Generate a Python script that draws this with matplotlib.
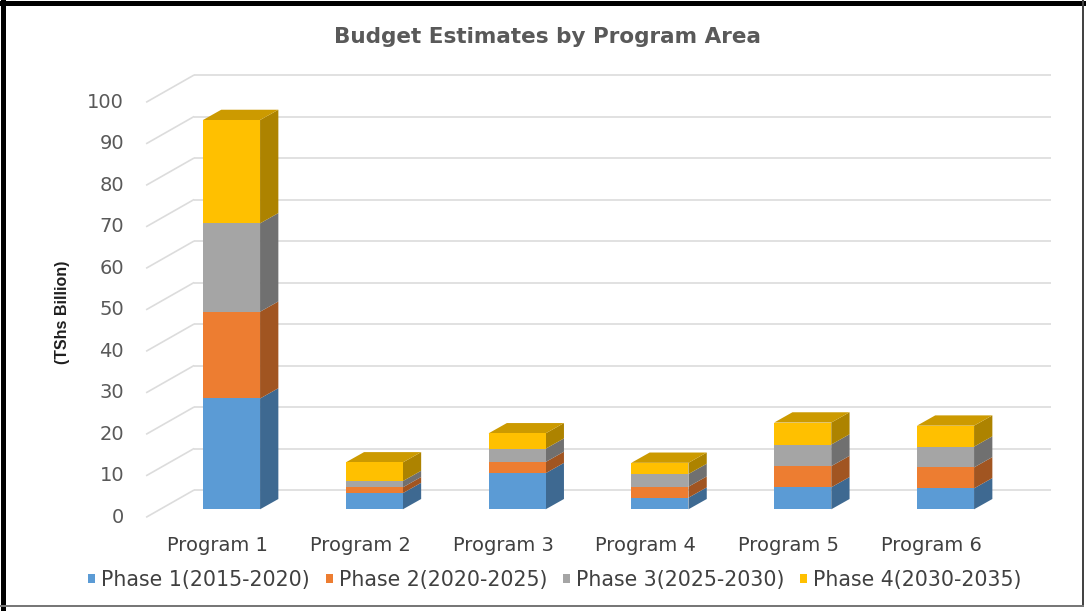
import matplotlib
matplotlib.use("Agg")
import matplotlib.pyplot as plt
import matplotlib.colors as mcolors
from matplotlib.patches import Polygon, Rectangle
from matplotlib.lines import Line2D

# ---- data -------------------------------------------------------------
categories = ["Program 1", "Program 2", "Program 3", "Program 4", "Program 5", "Program 6"]
phase_labels = ["Phase 1(2015-2020)", "Phase 2(2020-2025)",
                "Phase 3(2025-2030)", "Phase 4(2030-2035)"]
phase1 = [26.7, 3.9, 8.7, 2.8, 5.3, 5.05]
phase2 = [20.9, 1.4, 2.7, 2.65, 5.1, 5.05]
phase3 = [21.3, 1.5, 3.2, 3.05, 5.2, 5.0]
phase4 = [24.9, 4.5, 3.7, 2.7, 5.3, 5.05]
y_ticks = list(range(0, 101, 10))

title = "Budget Estimates by Program Area"
y_label = "(TShs Billion)"

# ---- style ------------------------------------------------------------
front_colors = ["#5B9BD5", "#ED7D31", "#A5A5A5", "#FFC000"]
grid_color = "#DCDCDC"
text_color = "#595959"


def shade(color, f):
    r, g, b = mcolors.to_rgb(color)
    return (r * f, g * f, b * f)


W, H, DPI = 1086, 611, 100
fig = plt.figure(figsize=(W / DPI, H / DPI), dpi=DPI)
fig.patch.set_facecolor("white")

# plotting box for the bar front faces (pixels from the top-left corner)
box_left, box_right = 160.1, 1016.9
box_zero, box_top = 509.3, 94.3
ax = fig.add_axes([box_left / W, 1 - box_zero / H,
                   (box_right - box_left) / W, (box_zero - box_top) / H])
ax.set_xlim(-0.5, len(categories) - 0.5)
ax.set_ylim(0, 100)
ax.axis("off")

ux = (box_right - box_left) / len(categories)   # pixels per category
uy = (box_zero - box_top) / 100.0              # pixels per unit value


def px(dx, dy):
    """pixel offset (right, up) -> data offset"""
    return dx / ux, dy / uy


# depth offsets relative to the bar front plane
front_dx, front_dy = px(-14, -8)      # front edge of the floor
bar_dx, bar_dy = px(18.3, 10.3)       # bar depth
back_dx, back_dy = px(34, 19.3)       # back wall
wall_x0, wall_x1 = -0.5, len(categories) - 0.5

# back wall gridlines and left wall lines
for v in y_ticks:
    ax.plot([wall_x0 + back_dx, wall_x1 + back_dx], [v + back_dy, v + back_dy],
            color=grid_color, lw=1.2, zorder=1, clip_on=False,
            solid_capstyle="butt")
    ax.plot([wall_x0 + front_dx, wall_x0 + back_dx], [v + front_dy, v + back_dy],
            color=grid_color, lw=1.2, zorder=1, clip_on=False,
            solid_capstyle="butt")
    lx, _ = px(-22, 0)
    ax.text(wall_x0 + front_dx + lx, v + front_dy, str(v), ha="right", va="center",
            fontsize=14, color=text_color, family="DejaVu Sans", clip_on=False)

# stacked 3D bars
width = 0.4
series = [phase1, phase2, phase3, phase4]
x = list(range(len(categories)))
bottoms = [0.0] * len(categories)
for k, vals in enumerate(series):
    bars = ax.bar(x, vals, width=width, bottom=bottoms, color=front_colors[k],
                  edgecolor="none", zorder=3, clip_on=False)
    for i, (bar, val) in enumerate(zip(bars, vals)):
        x0 = bar.get_x()
        x1 = x0 + bar.get_width()
        b0 = bottoms[i]
        b1 = b0 + val
        side = Polygon([(x1, b0), (x1 + bar_dx, b0 + bar_dy),
                        (x1 + bar_dx, b1 + bar_dy), (x1, b1)],
                       closed=True, facecolor=shade(front_colors[k], 0.68),
                       edgecolor="none", zorder=2.9, clip_on=False)
        ax.add_patch(side)
        if k == len(series) - 1:
            top = Polygon([(x0, b1), (x1, b1), (x1 + bar_dx, b1 + bar_dy),
                           (x0 + bar_dx, b1 + bar_dy)],
                          closed=True, facecolor=shade(front_colors[k], 0.8),
                          edgecolor="none", zorder=2.9, clip_on=False)
            ax.add_patch(top)
    bottoms = [b + v for b, v in zip(bottoms, vals)]

# category labels along the front of the floor
_, cy = px(0, -28)
for i, name in enumerate(categories):
    ax.text(i + front_dx, front_dy + cy, name, ha="center", va="center",
            fontsize=14, color="#404040", family="DejaVu Sans", clip_on=False)

# title and axis label
fig.text(548 / W, 1 - 37 / H, title, ha="center", va="center",
         fontsize=15.5, fontweight="bold", color=text_color, family="DejaVu Sans")
fig.text(63 / W, 1 - 312 / H, y_label, ha="center", va="center", rotation=90,
         fontsize=11.5, fontweight="bold", color="#1F1F1F",
         family=["Liberation Sans Narrow", "Liberation Sans"])

# legend
handles = [Rectangle((0, 0), 1, 1, facecolor=c, edgecolor="none") for c in front_colors]
fig.legend(handles, phase_labels, loc="center", bbox_to_anchor=(555 / W, 1 - 580 / H),
           ncol=4, frameon=False, handlelength=0.35, handleheight=0.35,
           handletextpad=0.3, columnspacing=0.75,
           prop={"family": "DejaVu Sans", "size": 14.8}, labelcolor="#404040")

# chart frame
lw_pt = 72 / DPI
fig.add_artist(Line2D([2.5 / W, 2.5 / W], [0, 1], transform=fig.transFigure,
                      color="black", lw=5 * lw_pt))
fig.add_artist(Line2D([0, 1], [1 - 2.5 / H, 1 - 2.5 / H], transform=fig.transFigure,
                      color="black", lw=5 * lw_pt))
fig.add_artist(Line2D([1083 / W, 1083 / W], [1 - 606 / H, 1], transform=fig.transFigure,
                      color="#444444", lw=2 * lw_pt))
fig.add_artist(Line2D([0, 1083 / W], [1 - 606 / H, 1 - 606 / H], transform=fig.transFigure,
                      color="#777777", lw=2 * lw_pt))

fig.savefig("out.png", dpi=DPI, facecolor="white")
